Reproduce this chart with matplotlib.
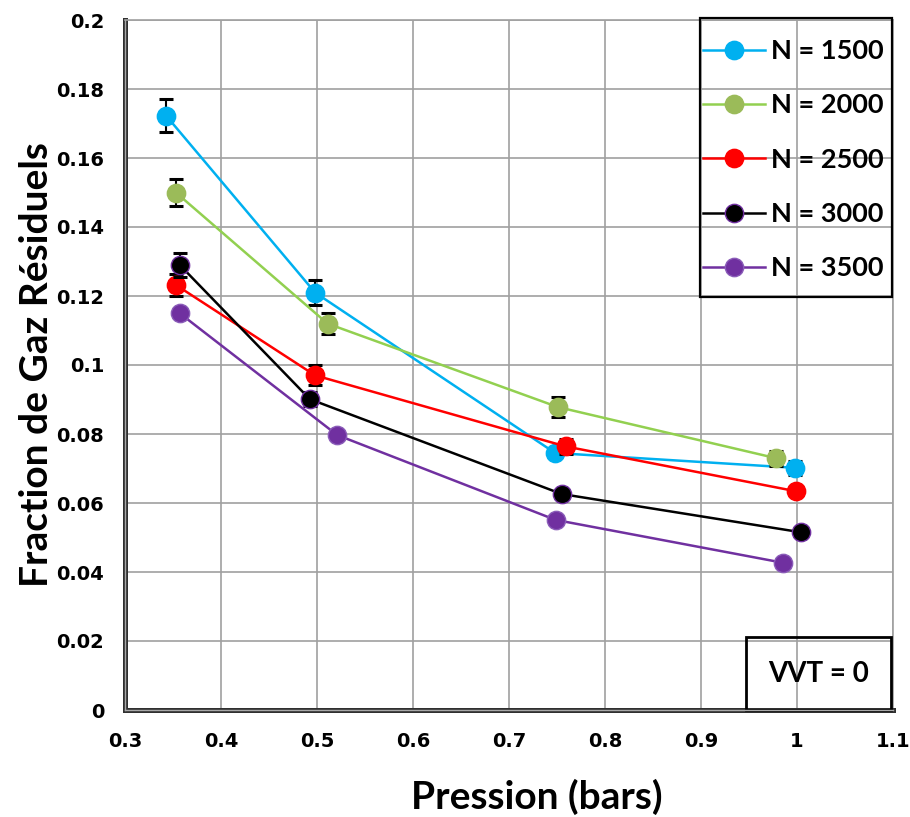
import matplotlib
matplotlib.use("Agg")
import matplotlib.pyplot as plt
from matplotlib.patches import Rectangle
from matplotlib.lines import Line2D

# ---- data ----
labels = ["N = 1500", "N = 2000", "N = 2500", "N = 3000", "N = 3500"]
x_1500 = [0.343, 0.498, 0.748, 0.998]
y_1500 = [0.1722, 0.1210, 0.0745, 0.0702]
e_1500 = [0.0048, 0.0035, 0.0010, 0.0020]
x_2000 = [0.353, 0.511, 0.751, 0.978]
y_2000 = [0.1500, 0.1120, 0.0878, 0.0730]
e_2000 = [0.0040, 0.0030, 0.0028, 0.0022]
x_2500 = [0.353, 0.498, 0.759, 0.999]
y_2500 = [0.1232, 0.0970, 0.0764, 0.0634]
e_2500 = [0.0031, 0.0029, 0.0022, 0.0010]
x_3000 = [0.357, 0.4925, 0.755, 1.0045]
y_3000 = [0.1290, 0.0901, 0.0626, 0.0515]
e_3000 = [0.0035, 0.0020, 0.0010, 0.0010]
x_3500 = [0.357, 0.521, 0.7485, 0.985]
y_3500 = [0.1150, 0.0797, 0.0551, 0.0427]
e_3500 = [0.0, 0.0, 0.0, 0.0]

xticks = [0.3, 0.4, 0.5, 0.6, 0.7, 0.8, 0.9, 1.0, 1.1]
xtick_labels = ["0.3", "0.4", "0.5", "0.6", "0.7", "0.8", "0.9", "1", "1.1"]
yticks = [0, 0.02, 0.04, 0.06, 0.08, 0.1, 0.12, 0.14, 0.16, 0.18, 0.2]
ytick_labels = ["0", "0.02", "0.04", "0.06", "0.08", "0.1", "0.12", "0.14", "0.16", "0.18", "0.2"]

xs = [x_1500, x_2000, x_2500, x_3000, x_3500]
ys = [y_1500, y_2000, y_2500, y_3000, y_3500]
es = [e_1500, e_2000, e_2500, e_3000, e_3500]
line_colors = ["#00B0F0", "#92D050", "#FF0000", "#000000", "#7030A0"]
marker_colors = ["#00B0F0", "#9BBB59", "#FF0000", "#000000", "#7030A0"]
edge_colors = ["#00B0F0", "#9BBB59", "#FF0000", "#7030A0", "#8A5CB8"]

fig = plt.figure(figsize=(9.10, 8.17), dpi=100)
ax = fig.add_axes([125/910, 107/817, 768/910, 690/817])

def ax_x(px):
    return (px - 125) / 768

def ax_y(py):
    return (710 - py) / 690

handles = []
for i in range(5):
    ax.errorbar(xs[i], ys[i], yerr=es[i], fmt="none", ecolor="black",
                elinewidth=1.5, capsize=4.8, capthick=2.2, zorder=3 + 2*i)
    h, = ax.plot(xs[i], ys[i], "-", color=line_colors[i], lw=1.8,
                 marker="o", markersize=13.2, markerfacecolor=marker_colors[i],
                 markeredgecolor=edge_colors[i], markeredgewidth=1.0,
                 zorder=4 + 2*i, label=labels[i])
    handles.append(h)

ax.set_xlim(0.3, 1.1)
ax.set_ylim(0, 0.2)
ax.set_xticks(xticks)
ax.set_xticklabels(xtick_labels)
ax.set_yticks(yticks)
ax.set_yticklabels(ytick_labels)
ax.tick_params(length=0)
ax.tick_params(axis="x", pad=16)
ax.tick_params(axis="y", pad=15)
for lab in ax.get_xticklabels() + ax.get_yticklabels():
    lab.set_fontfamily("DejaVu Sans")
    lab.set_fontweight("bold")
    lab.set_fontsize(14)

ax.grid(True, color="#A0A0A0", lw=1.2, zorder=0)
ax.set_axisbelow(True)
for s in ["top", "right"]:
    ax.spines[s].set_color("#A0A0A0")
    ax.spines[s].set_linewidth(1.2)
for s in ["left", "bottom"]:
    ax.spines[s].set_color("#303030")
    ax.spines[s].set_linewidth(3.6)
# light inner stroke to give the double-line frame look
ax.add_line(Line2D([0, 0], [0, 1], transform=ax.transAxes, color="#A8A8A8",
                   lw=1.0, clip_on=False, zorder=30))
ax.add_line(Line2D([0, 1], [0, 0], transform=ax.transAxes, color="#A8A8A8",
                   lw=1.0, clip_on=False, zorder=30))

ax.set_xlabel("Pression (bars)", fontfamily="Lato", fontweight="bold", fontsize=28)
ax.xaxis.set_label_coords(0.536, -0.099)
ax.set_ylabel("Fraction de Gaz Résiduels", fontfamily="Lato", fontweight="bold", fontsize=28)
ax.yaxis.set_label_coords(-0.093, 0.5)

# legend frame drawn separately
ax.add_patch(Rectangle((ax_x(700), ax_y(297)), ax_x(892) - ax_x(700), ax_y(18) - ax_y(297),
                       transform=ax.transAxes, fill=False, edgecolor="black",
                       lw=1.6, zorder=19, clip_on=False))
leg = ax.legend(handles=handles, loc="upper left", bbox_to_anchor=(ax_x(703), ax_y(39)),
                borderaxespad=0, frameon=False,
                prop={"family": "Lato", "weight": "bold", "size": 19.5},
                handlelength=2.3, handletextpad=0.2, labelspacing=1.12,
                borderpad=0)
leg.set_zorder(20)

# VVT box
bx0 = ax_x(746)
by0 = 0.0
bw = ax_x(891) - ax_x(746)
bh = ax_y(637)
ax.add_patch(Rectangle((bx0, by0), bw, bh, transform=ax.transAxes, fill=False,
                       edgecolor="black", lw=2, zorder=20, clip_on=False))
ax.text(bx0 + bw/2, by0 + bh/2, "VVT = 0", transform=ax.transAxes,
        ha="center", va="center", fontfamily="Lato", fontweight="bold",
        fontsize=20, zorder=21)

fig.savefig("out.png", dpi=100)
